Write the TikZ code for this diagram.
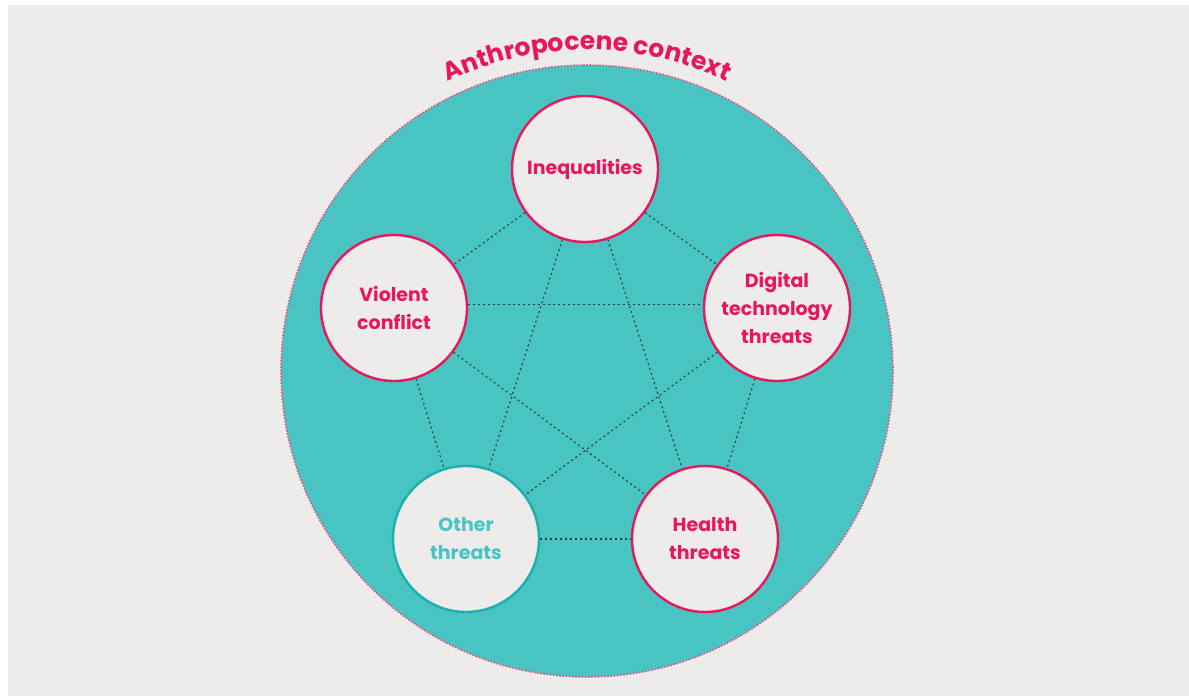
\documentclass[tikz,border=0pt]{standalone}
\usepackage{fontspec}
\setmainfont{Poppins}
\usetikzlibrary{decorations.text}
\definecolor{bggray}{HTML}{EDECEA}
\definecolor{tealc}{HTML}{48C4C2}
\definecolor{tealdark}{HTML}{1BB0AE}
\definecolor{pinkc}{HTML}{E8175D}
\definecolor{dotgray}{HTML}{2E3B3B}
\tikzset{
  threat/.style={circle, minimum size=146pt, inner sep=0pt, fill=bggray, draw=pinkc, line width=2.4pt,
    text=pinkc, align=center, font=\bfseries\fontsize{19}{28}\selectfont},
  otherthreat/.style={threat, draw=tealdark, text=tealc},
  conn/.style={draw=dotgray, line width=1.1pt, dash pattern=on 2pt off 3pt},
  context/.style={circle, minimum size=612pt, inner sep=0pt, fill=tealc, draw=pinkc!75, line width=1.6pt, dash pattern=on 1.6pt off 1.6pt}
}
\begin{document}
\begin{tikzpicture}[x=1pt,y=1pt]
\useasboundingbox (0,0) rectangle (1189,696);
\fill[white] (0,0) rectangle (1189,696);
\fill[bggray] (8,0) rectangle (1189,691);
\node[context] (ctx) at (587,325) {};
\path[decorate, decoration={text along path, text align=center,
  text={|\color{pinkc}\bfseries\fontsize{25}{30}\selectfont|Anthropocene context}}]
  (587,325) ++(152:321) arc[start angle=152, end angle=28, radius=321];
\node[threat] (ineq) at (585,527) {Inequalities};
\node[threat] (viol) at (394,388) {Violent\\conflict};
\node[threat] (dig) at (777,388) {Digital\\technology\\threats};
\node[otherthreat] (oth) at (466,157) {Other\\threats};
\node[threat] (hea) at (705,157) {Health\\threats};
\draw[conn] (ineq) -- (viol);
\draw[conn] (ineq) -- (dig);
\draw[conn] (viol) -- (oth);
\draw[conn] (dig) -- (hea);
\draw[conn] (oth) -- (hea);
\draw[conn] (viol.3) -- (dig.177);
\draw[conn] (ineq) -- (oth);
\draw[conn] (ineq) -- (hea);
\draw[conn] (viol) -- (hea);
\draw[conn] (dig) -- (oth);
\end{tikzpicture}
\end{document}
